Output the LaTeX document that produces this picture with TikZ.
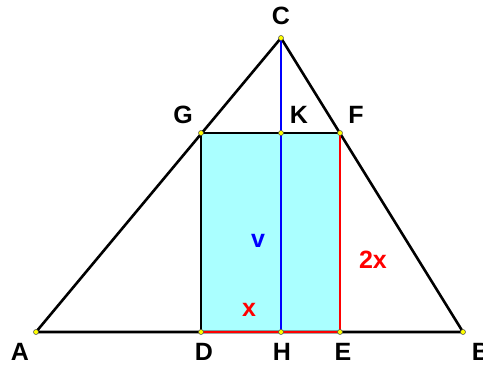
\documentclass[tikz,border=0pt]{standalone}
\usepackage{fontspec}
\setsansfont{Liberation Sans}
\usepackage{xcolor}
\usepackage{tikz}
\usetikzlibrary{positioning,calc}
\definecolor{boxfill}{RGB}{170,255,255}
\definecolor{ptfill}{RGB}{255,255,0}
\tikzset{
  lbl/.style={font=\sffamily\bfseries\fontsize{25}{25}\selectfont,inner sep=0pt},
  pt/.style={circle,draw=black!70,fill=ptfill,line width=0.5pt,inner sep=0pt,minimum size=5pt}
}
\begin{document}
\begin{tikzpicture}[x=1pt,y=-1pt,line width=2.6pt]
\useasboundingbox (0,0) rectangle (483,366);
% points of the triangle
\coordinate (A) at (36,332);
\coordinate (B) at (463,332);
\coordinate (C) at (281,38);
% rectangle corners
\coordinate (D) at (201,332);
\coordinate (E) at (340,332);
\coordinate (G) at (201,133);
\coordinate (F) at (340,133);
% foot of height
\coordinate (H) at (281,332);
\coordinate (K) at (281,133);
% shaded rectangle
\fill[boxfill] (D) rectangle (F);
% triangle
\draw[line join=round] (A) -- (C) -- (B) -- (A);
% rectangle sides
\draw (G) -- (F);
\draw (G) -- (D);
\draw[red] (D) -- (E);
\draw[red] (E) -- (F);
% height
\draw[blue] (C) -- (H);
% point marks
\foreach \p in {A,B,C,D,E,G,F,H,K}
  \node[pt] at (\p) {};
% point names
\node[lbl] (labA) at (20,352) {A};
\node[lbl] (labD) at (204,352) {D};
\node[lbl] (labH) at (282,352) {H};
\node[lbl] (labE) at (343,352) {E};
\node[lbl] (labB) at (481,352) {B};
\node[lbl] (labC) at (281,16) {C};
\node[lbl] (labG) at (183,115) {G};
\node[lbl] (labK) at (299,115) {K};
\node[lbl] (labF) at (356,115) {F};
% lengths
\node[lbl,blue] (labv) at (258,241) {v};
\node[lbl,red] (lab2x) at (373,260) {2x};
\node[lbl,red] (labx) at (249,310) {x};
\end{tikzpicture}
\end{document}
